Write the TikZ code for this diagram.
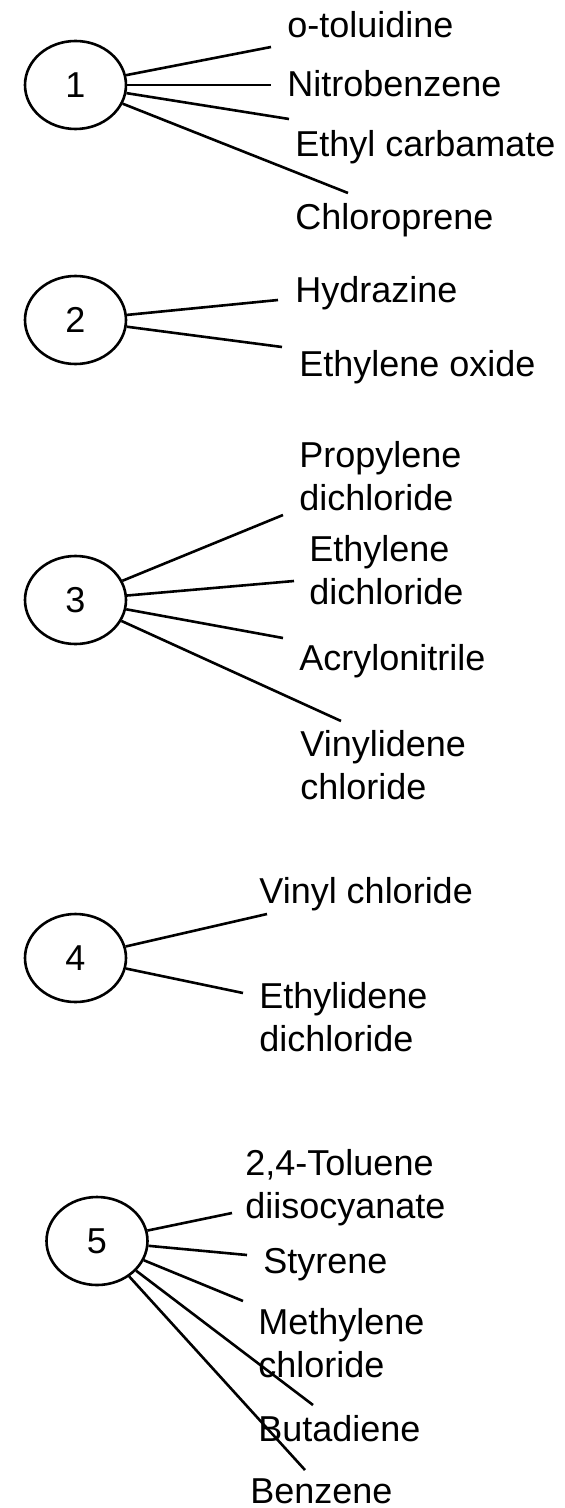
\documentclass[tikz,border=0pt]{standalone}
\usepackage{fontspec}
\setmainfont{Liberation Sans}
\usetikzlibrary{shapes.geometric}
\newcommand\lblfont{\fontsize{18}{21.5}\selectfont}
% two stacked lines whose baseline is that of the first line
\newcommand\twolines[2]{\vtop{\hbox{#1}\hbox{#2}}}
\tikzset{
  hub/.style={draw, ellipse, line width=1.3pt, minimum width=50.5pt,
    minimum height=44pt, inner sep=0pt, font=\lblfont},
  lbl/.style={anchor=base west, inner sep=0pt, font=\lblfont},
  link/.style={line width=1.3pt}
}
\begin{document}
\begin{tikzpicture}[x=0.5pt, y=-0.5pt]
\useasboundingbox (0,0) rectangle (564,1508);

% group 1
\node[hub] (h1) at (75.5,85) {1};
\node[lbl] (t11) at (287,38) {o-toluidine};
\node[lbl] (t12) at (287,97) {Nitrobenzene};
\node[lbl] (t13) at (295,157) {Ethyl carbamate};
\node[lbl] (t14) at (295,230) {Chloroprene};
\coordinate (c11) at (271,47);
\coordinate (c12) at (271,85);
\coordinate (c13) at (289,119);
\coordinate (c14) at (348,193);
\foreach \k in {1,...,4} \draw[link] (h1) -- (c1\k);

% group 2
\node[hub] (h2) at (75.5,320) {2};
\node[lbl] (t21) at (295,303) {Hydrazine};
\node[lbl] (t22) at (299,377) {Ethylene oxide};
\coordinate (c21) at (278,300);
\coordinate (c22) at (282,347);
\foreach \k in {1,2} \draw[link] (h2) -- (c2\k);

% group 3
\node[hub] (h3) at (75.5,600) {3};
\node[lbl] (t31) at (299,467) {\twolines{Propylene}{dichloride}};
\node[lbl] (t32) at (309,561) {\twolines{Ethylene}{dichloride}};
\node[lbl] (t33) at (299,670) {Acrylonitrile};
\node[lbl] (t34) at (300,756) {\twolines{Vinylidene}{chloride}};
\coordinate (c31) at (283,515);
\coordinate (c32) at (294,581);
\coordinate (c33) at (283,638);
\coordinate (c34) at (341,721);
\foreach \k in {1,...,4} \draw[link] (h3) -- (c3\k);

% group 4
\node[hub] (h4) at (75.5,958) {4};
\node[lbl] (t41) at (259,903) {Vinyl chloride};
\node[lbl] (t42) at (259,1008) {\twolines{Ethylidene}{dichloride}};
\coordinate (c41) at (267,914);
\coordinate (c42) at (243,993);
\foreach \k in {1,2} \draw[link] (h4) -- (c4\k);

% group 5
\node[hub] (h5) at (97,1241) {5};
\node[lbl] (t51) at (245,1175) {\twolines{2,4-Toluene}{diisocyanate}};
\node[lbl] (t52) at (263,1273) {Styrene};
\node[lbl] (t53) at (258,1334) {\twolines{Methylene}{chloride}};
\node[lbl] (t54) at (258,1441) {Butadiene};
\node[lbl] (t55) at (250,1503) {Benzene};
\coordinate (c51) at (232,1213);
\coordinate (c52) at (247,1255);
\coordinate (c53) at (243,1301);
\coordinate (c54) at (313,1405);
\coordinate (c55) at (305,1470);
\foreach \k in {1,...,5} \draw[link] (h5) -- (c5\k);
\end{tikzpicture}
\end{document}
